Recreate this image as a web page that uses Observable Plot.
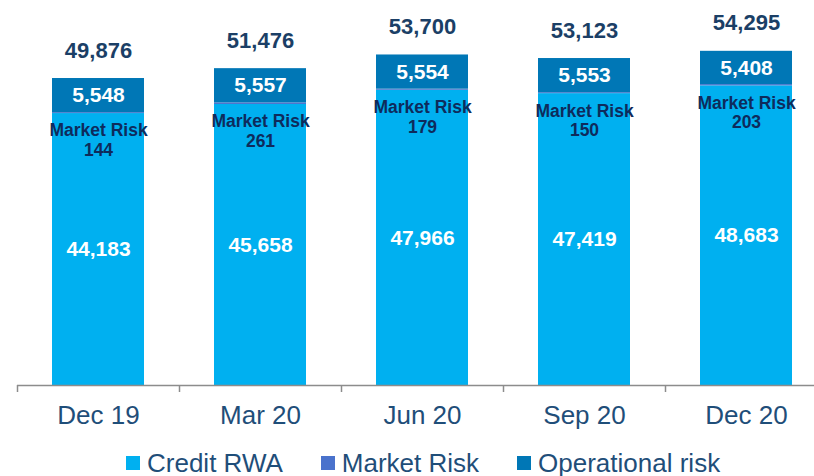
<!DOCTYPE html>
<html>
<head>
<meta charset="utf-8">
<script src="https://cdn.jsdelivr.net/npm/d3@7"></script>
<script src="https://cdn.jsdelivr.net/npm/@observablehq/plot@0.6"></script>
<style>
  html, body { margin: 0; padding: 0; background: #fff; overflow: hidden; }
  body { width: 814px; height: 476px; font-family: "Liberation Sans", Arial, sans-serif; }
  #legend { display: flex; align-items: center; padding-left: 126px; margin-top: 8px; height: 30px;
    font-size: 26px; color: #1F4E79; white-space: nowrap; }
  .item { display: flex; align-items: center; margin-right: 38px; }
  .sw { width: 14px; height: 14px; margin-right: 7px; display: inline-block; }
</style>
</head>
<body>
<div id="chart"></div>
<div id="legend"></div>
<script>
const periods = ["Dec 19", "Mar 20", "Jun 20", "Sep 20", "Dec 20"];
const creditRWA = [44183, 45658, 47966, 47419, 48683];
const marketRisk = [144, 261, 179, 150, 203];
const operationalRisk = [5548, 5557, 5554, 5553, 5408];
const totals = [49876, 51476, 53700, 53123, 54295];
const seriesNames = ["Credit RWA", "Market Risk", "Operational risk"];
const seriesColors = ["#00B0F0", "#4A72CC", "#0077B6"];

const fmt = d3.format(",");
const rows = [];
periods.forEach((p, i) => {
  rows.push({period: p, series: seriesNames[0], value: creditRWA[i]});
  rows.push({period: p, series: seriesNames[1], value: marketRisk[i]});
  rows.push({period: p, series: seriesNames[2], value: operationalRisk[i]});
});
const info = periods.map((p, i) => ({
  period: p, credit: creditRWA[i], market: marketRisk[i], op: operationalRisk[i], total: totals[i]
}));

const font = "Liberation Sans, Arial, sans-serif";
const chart = Plot.plot({
  width: 814,
  height: 440,
  marginLeft: 17,
  marginRight: -13,
  marginTop: 20,
  marginBottom: 55,
  style: {fontFamily: font, background: "#fff", overflow: "visible", maxWidth: "none"},
  x: {domain: periods, padding: 0, axis: null},
  y: {domain: [0, 59300], axis: null},
  color: {domain: seriesNames, range: seriesColors},
  marks: [
    Plot.barY(rows, {x: "period", y: "value", fill: "series", order: seriesNames, insetLeft: 35, insetRight: 35}),
    Plot.ruleY([0], {stroke: "#8c8c8c", strokeWidth: 1.5}),
    Plot.ruleX(periods, {x: d => d, dx: -81, y1: 0, y2: 0, insetBottom: -7, stroke: "#8c8c8c", strokeWidth: 1.5}),
    Plot.axisX({tickSize: 0, tickPadding: 20, fontSize: 26, fill: "#1F4E79", fontFamily: font, label: null}),
    Plot.text(info, {x: "period", y: "total", text: d => fmt(d.total), lineAnchor: "bottom", dy: -21,
      fontSize: 22, fontWeight: "bold", fill: "#1B3F66", fontFamily: font}),
    Plot.text(info, {x: "period", y: d => d.credit + d.market + d.op / 2, text: d => fmt(d.op),
      fontSize: 21, fontWeight: "bold", fill: "#fff", fontFamily: font}),
    Plot.text(info, {x: "period", y: d => d.credit / 2, text: d => fmt(d.credit),
      fontSize: 21, fontWeight: "bold", fill: "#fff", fontFamily: font}),
    Plot.text(info, {x: "period", y: "credit", text: d => "Market Risk\n" + fmt(d.market), lineAnchor: "top",
      dy: 9, lineHeight: 1.12, fontSize: 17.5, fontWeight: "bold", fill: "#0E2B5C", fontFamily: font})
  ]
});
document.getElementById("chart").appendChild(chart);

const legend = document.getElementById("legend");
seriesNames.forEach((n, i) => {
  const it = document.createElement("div");
  it.className = "item";
  const sw = document.createElement("span");
  sw.className = "sw";
  sw.style.background = seriesColors[i];
  it.appendChild(sw);
  const t = document.createElement("span");
  t.textContent = n;
  it.appendChild(t);
  legend.appendChild(it);
});
</script>
</body>
</html>
